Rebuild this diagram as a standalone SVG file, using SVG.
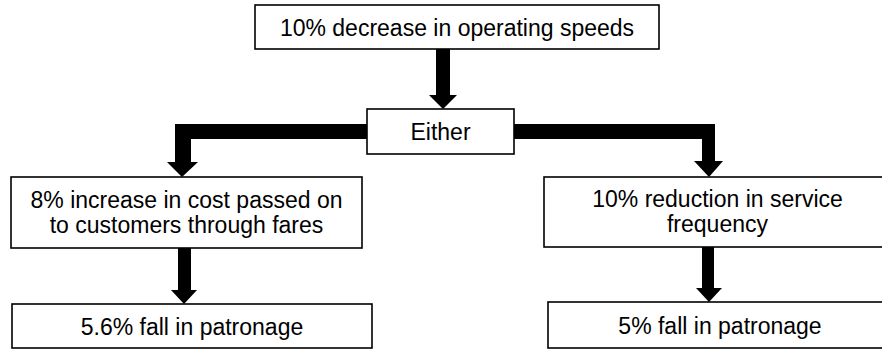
<svg xmlns="http://www.w3.org/2000/svg" width="882" height="351" viewBox="0 0 882 351">
<style>
.box{fill:#fff;stroke:#000;stroke-width:1.6}
.t{font-family:"Liberation Sans",Arial,sans-serif;font-size:23px;fill:#000;text-anchor:middle}
.arr{fill:#000;stroke:none}
</style>
<rect width="882" height="351" fill="#fff"/>
<g id="connectors">
<polygon class="arr" points="436,49 450,49 450,95 457,95 443,109 429,95 436,95"/>
<polygon class="arr" points="368,124 368,139 191,139 191,162 198,162 182,177 167,162 175,162 175,124"/>
<polygon class="arr" points="513,124 715,124 715,161 723,161 709,177 694,161 702,161 702,139 513,139"/>
<polygon class="arr" points="178,248 191,248 191,290 197,290 184,304 171,290 178,290"/>
<polygon class="arr" points="702,247 714,247 714,288 722,288 709,302 696,288 702,288"/>
</g>
<g id="top">
<rect class="box" x="255" y="5" width="404" height="44"/>
<text class="t" x="457" y="36">10% decrease in operating speeds</text>
</g>
<g id="either">
<rect class="box" x="367" y="109" width="147" height="45"/>
<text class="t" x="440.5" y="140">Either</text>
</g>
<g id="fares">
<rect class="box" x="11" y="177" width="351" height="71"/>
<text class="t" x="186.5" y="208">8% increase in cost passed on</text>
<text class="t" x="186.5" y="233">to customers through fares</text>
</g>
<g id="frequency">
<rect class="box" x="544" y="177" width="347" height="70"/>
<text class="t" x="717.5" y="207">10% reduction in service</text>
<text class="t" x="717.5" y="232">frequency</text>
</g>
<g id="fall1">
<rect class="box" x="12" y="304" width="360" height="44"/>
<text class="t" x="192" y="335">5.6% fall in patronage</text>
</g>
<g id="fall2">
<rect class="box" x="548" y="302" width="344" height="46"/>
<text class="t" x="720" y="334">5% fall in patronage</text>
</g>
</svg>
